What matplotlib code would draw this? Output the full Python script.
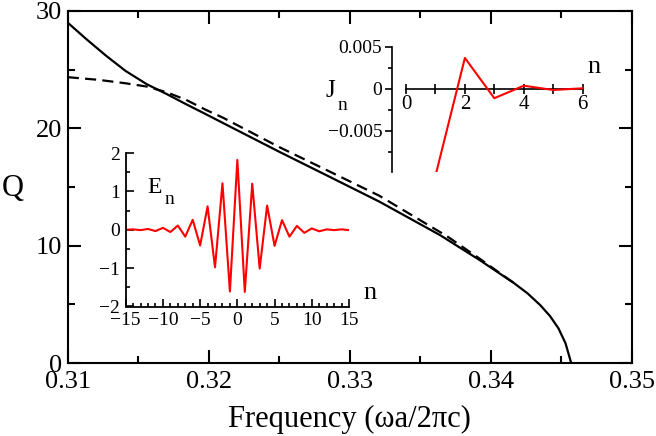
import matplotlib
matplotlib.use('Agg')
import matplotlib.pyplot as plt
from matplotlib.ticker import MultipleLocator, FormatStrFormatter, FuncFormatter

plt.rcParams['font.family'] = ['Liberation Serif', 'DejaVu Serif']

# Q versus frequency (solid and dashed curves)
freq_solid = [0.3100, 0.3113, 0.3127, 0.3141, 0.3156, 0.3170, 0.3184, 0.3198, 0.3209, 0.3250,
              0.3286, 0.3321, 0.3364, 0.3392, 0.3406, 0.3416, 0.3426, 0.3435, 0.3442, 0.3448,
              0.3453, 0.3457]
q_solid = [29.0, 27.62, 26.2, 24.89, 23.76, 22.93, 22.05, 21.2, 20.52, 18.0,
           15.85, 13.75, 10.9, 8.78, 7.65, 6.85, 5.94, 4.94, 4.0, 2.95,
           1.68, 0.0]

freq_dash = [0.3100, 0.3122, 0.3141, 0.3156, 0.3170, 0.3184, 0.3198, 0.3210, 0.3250,
             0.3286, 0.3321, 0.3369, 0.3392, 0.3406, 0.3416]
q_dash = [24.36, 24.13, 23.84, 23.56, 23.08, 22.42, 21.57, 20.91, 18.4,
          16.3, 14.25, 10.8, 8.9, 7.7, 6.85]

# inset E_n
n_e = list(range(-15, 16))
e_n = [0.0, 0.01, -0.01, 0.02, -0.035, 0.05, -0.06, 0.11, -0.18, 0.26, -0.41, 0.61, -0.98, 1.21, -1.61,
       1.82,
       -1.62, 1.20, -1.01, 0.63, -0.42, 0.25, -0.18, 0.10, -0.08, 0.035, -0.04, 0.01, -0.01, 0.01, -0.01]

# inset J_n
n_j = [1, 2, 3, 4, 5, 6]
j_n = [-0.0104, 0.00366, -0.00114, 0.00035, -0.00016, 0.00004]

W, H = 656, 436
fig = plt.figure(figsize=(W / 100, H / 100), dpi=100)

# main axes
ax = fig.add_axes([67.8 / W, 1 - 363 / H, (631.8 - 67.8) / W, (363 - 11) / H])
ax.plot(freq_solid, q_solid, color='black', lw=1.6)
ax.plot(freq_dash, q_dash, color='black', lw=1.6, linestyle=(0, (5, 2.8)))
ax.set_xlim(0.31, 0.35)
ax.set_ylim(0, 30)
ax.xaxis.set_major_locator(MultipleLocator(0.01))
ax.xaxis.set_minor_locator(MultipleLocator(0.005))
ax.yaxis.set_major_locator(MultipleLocator(10))
ax.yaxis.set_minor_locator(MultipleLocator(5))
ax.xaxis.set_major_formatter(FormatStrFormatter('%.2f'))
ax.tick_params(which='both', direction='in', top=True, right=True, width=1.5, labelsize=19)
ax.tick_params(which='major', length=9.5)
ax.tick_params(which='minor', length=5)
ax.tick_params(axis='x', pad=5.5)
ax.tick_params(axis='y', pad=4)
for s in ax.spines.values():
    s.set_linewidth(1.5)

fig.text(349.8 / W, 1 - 426.7 / H, 'Frequency (\u03c9a/2\u03c0c)', fontsize=22,
         ha='center', va='baseline')
fig.text(13 / W, 1 - 188 / H, 'Q', fontsize=22, ha='center', va='center')

# inset E_n
axe = fig.add_axes([125.7 / W, 1 - 306.5 / H, (349 - 125.7) / W, (306.5 - 153) / H])
axe.patch.set_alpha(0)
axe.plot(n_e, e_n, color='red', lw=1.5)
axe.set_xlim(-15, 15)
axe.set_ylim(-2, 2)
axe.spines['top'].set_visible(False)
axe.spines['right'].set_visible(False)
axe.xaxis.set_major_locator(MultipleLocator(5))
axe.xaxis.set_minor_locator(MultipleLocator(1))
axe.yaxis.set_major_locator(MultipleLocator(1))
axe.yaxis.set_minor_locator(MultipleLocator(0.5))
axe.tick_params(which='both', direction='in', width=1.2, labelsize=14, pad=4)
axe.tick_params(which='major', length=6)
axe.tick_params(which='minor', length=3)
for s in axe.spines.values():
    s.set_linewidth(1.3)
axe.text(-12.1, 0.97, 'E', fontsize=17)
axe.text(-9.8, 0.66, 'n', fontsize=14)
axe.text(16.9, -1.8, 'n', fontsize=19, clip_on=False)

# inset J_n
axj = fig.add_axes([392 / W, 1 - 171.7 / H, (597.4 - 392) / W, (171.7 - 46.7) / H])
axj.patch.set_alpha(0)
axj.plot(n_j, j_n, color='red', lw=1.5, zorder=3)
axj.set_xlim(-0.475, 6.5)
axj.set_ylim(-0.0099, 0.005)
axj.spines['top'].set_visible(False)
axj.spines['right'].set_visible(False)
axj.spines['bottom'].set_position(('data', 0))
axj.spines['bottom'].set_bounds(0, 6)
for s in axj.spines.values():
    s.set_linewidth(1.2)
axj.xaxis.set_major_locator(MultipleLocator(2))
axj.xaxis.set_minor_locator(MultipleLocator(1))
axj.yaxis.set_major_locator(MultipleLocator(0.005))
axj.yaxis.set_minor_locator(MultipleLocator(0.0025))
axj.yaxis.set_major_formatter(FuncFormatter(
    lambda v, p: '0' if abs(v) < 1e-9 else f'{v:.3f}'.replace('-', '\u2212')))
axj.tick_params(axis='x', which='both', direction='inout', length=7, width=1.2,
                labelsize=15, pad=1)
axj.tick_params(axis='y', which='major', direction='out', length=5, width=1.2, labelsize=14, pad=2)
axj.tick_params(axis='y', which='minor', direction='out', length=3, width=1.2)
axj.text(-2.75, -0.00099, 'J', fontsize=18)
axj.text(-2.34, -0.00254, 'n', fontsize=14)
axj.text(6.15, 0.00187, 'n', fontsize=19, clip_on=False)

fig.savefig('out.png', dpi=100)
